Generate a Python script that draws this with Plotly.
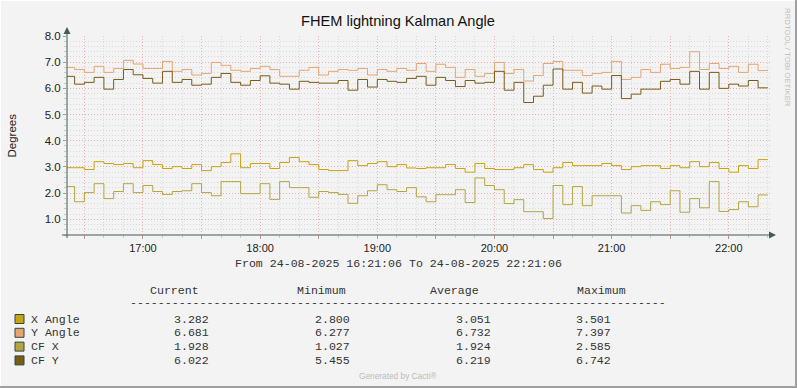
import pandas as pd
import plotly.graph_objects as go

# ---------------- data (5-minute RRD steps) ----------------
x_angle = [2.97, 2.97, 2.90, 3.20, 3.13, 3.09, 3.13, 2.97, 3.24, 3.09,
           2.94, 3.01, 2.94, 3.09, 2.86, 3.01, 3.17, 3.50, 2.97, 3.13,
           3.13, 2.94, 3.17, 3.36, 3.20, 3.09, 2.90, 2.86, 2.86, 3.24,
           3.05, 3.13, 3.20, 3.01, 3.09, 2.96, 2.94, 2.97, 2.97, 3.09,
           2.94, 2.80, 3.13, 2.94, 2.90, 2.90, 2.97, 3.09, 2.90, 2.80,
           2.97, 3.17, 3.05, 3.05, 3.05, 3.13, 3.05, 2.90, 3.01, 3.05,
           3.05, 2.94, 3.05, 2.97, 3.20, 3.01, 3.17, 2.94, 2.80, 3.05,
           2.94, 3.28]
y_angle = [6.80, 6.72, 6.61, 6.84, 6.61, 6.76, 7.07, 6.93, 6.76, 6.76,
           7.03, 6.65, 6.72, 6.51, 6.57, 6.99, 6.88, 6.69, 6.65, 6.76,
           6.84, 6.72, 6.46, 6.46, 6.69, 6.80, 6.51, 6.65, 6.72, 6.69,
           6.76, 6.51, 6.72, 6.65, 6.76, 6.69, 6.95, 6.65, 6.92, 6.80,
           6.42, 6.72, 6.46, 6.57, 6.99, 6.57, 6.72, 6.28, 6.49, 6.95,
           7.03, 6.69, 6.69, 6.49, 6.57, 6.61, 7.03, 6.34, 6.42, 6.72,
           6.61, 6.92, 6.76, 6.80, 7.40, 6.72, 6.95, 6.76, 6.84, 6.61,
           6.92, 6.68]
cf_x = [2.25, 1.67, 2.02, 2.36, 1.79, 2.06, 2.36, 2.02, 2.29, 2.06,
        1.95, 2.06, 2.09, 2.36, 2.02, 1.90, 2.44, 2.44, 1.98, 1.98,
        2.36, 1.76, 2.44, 2.21, 2.21, 1.84, 2.06, 2.02, 1.95, 1.61,
        1.90, 2.09, 2.32, 2.13, 2.06, 2.21, 1.86, 1.67, 1.94, 1.94,
        2.13, 1.64, 2.58, 2.29, 2.13, 1.60, 1.75, 1.29, 1.29, 1.03,
        2.29, 1.56, 2.25, 1.52, 1.90, 1.90, 1.90, 1.24, 1.52, 1.34,
        1.67, 1.56, 2.09, 1.27, 1.79, 1.44, 2.44, 1.30, 1.37, 1.67,
        1.48, 1.93]
cf_y = [6.46, 6.16, 6.23, 6.42, 5.97, 6.34, 6.72, 6.52, 6.38, 6.20,
        6.65, 6.23, 6.34, 6.12, 6.16, 6.42, 6.57, 6.23, 6.12, 6.30,
        6.48, 6.20, 6.16, 5.97, 6.27, 6.23, 6.20, 6.20, 6.30, 5.93,
        6.34, 6.05, 6.34, 6.27, 6.23, 6.38, 6.46, 6.12, 6.42, 6.30,
        6.07, 6.30, 6.20, 6.23, 6.65, 5.93, 6.23, 5.46, 5.70, 6.12,
        6.74, 5.97, 6.23, 5.82, 6.09, 5.97, 6.49, 5.61, 5.78, 5.97,
        5.97, 6.27, 6.34, 6.16, 6.65, 5.97, 6.61, 6.00, 6.16, 6.09,
        6.30, 6.02]

series_names = ["X Angle", "Y Angle", "CF X", "CF Y"]
series_colors = ["#C9A310", "#E6A472", "#B3A640", "#7A5B17"]
stat_current = ["3.282", "6.681", "1.928", "6.022"]
stat_minimum = ["2.800", "6.277", "1.027", "5.455"]
stat_average = ["3.051", "6.732", "1.924", "6.219"]
stat_maximum = ["3.501", "7.397", "2.585", "6.742"]

t_start = "2025-08-24 16:21:06"
t_end = "2025-08-24 22:21:06"
first_step = "2025-08-24 16:25"
last_step_end = "2025-08-24 22:20"
hour_ticks = ["17:00", "18:00", "19:00", "20:00", "21:00", "22:00"]
y_ticks = [1, 2, 3, 4, 5, 6, 7, 8]

# ---------------- geometry ----------------
W, H = 797, 388
L, R, T, B = 67, 770, 36, 235


def px(x):
    return (x - L) / (R - L)


def py(y):
    return (B - y) / (B - T)


steps = [pd.Timestamp(t_start)] + list(pd.date_range(first_step, periods=len(x_angle) - 1, freq="5min"))
xs = steps + [pd.Timestamp(last_step_end)]

fig = go.Figure()
for name, vals, col in zip(series_names, [x_angle, y_angle, cf_x, cf_y], series_colors):
    fig.add_trace(go.Scatter(x=xs, y=vals + [vals[-1]], mode="lines", name=name,
                             line=dict(color=col, width=1, shape="hv"),
                             showlegend=False, hoverinfo="skip"))

half_hours = pd.date_range("2025-08-24 16:30", "2025-08-24 22:00", freq="30min")
tickvals = list(half_hours)
ticktext = [t.strftime("%H:%M") if t.strftime("%H:%M") in hour_ticks else "" for t in half_hours]

MAJ = "rgba(232,160,160,0.7)"
MIN = "rgba(205,205,205,0.7)"
DASH = "1px,2px"
AX = "#3E5E50"

fig.update_xaxes(type="date", range=[t_start, t_end], tickmode="array",
                 tickvals=tickvals, ticktext=ticktext,
                 showgrid=True, gridcolor=MAJ, griddash=DASH, gridwidth=1,
                 ticks="outside", ticklen=3, tickcolor="#C09090",
                 tickfont=dict(family="Liberation Sans", size=11, color="#222"),
                 showline=False, zeroline=False,
                 minor=dict(tickmode="linear", tick0="2025-08-24 16:00", dtick=600000,
                            showgrid=True, gridcolor=MIN, griddash=DASH, gridwidth=1,
                            ticks="outside", ticklen=2, tickcolor="#C8C8C8"))
fig.update_yaxes(range=[0.4, 8.0], tickmode="array", tickvals=y_ticks,
                 ticktext=[f"{v:.1f}" for v in y_ticks],
                 showgrid=True, gridcolor=MAJ, griddash=DASH, gridwidth=1,
                 ticks="outside", ticklen=3, tickcolor="#C09090",
                 tickfont=dict(family="Liberation Sans", size=11.5, color="#222"),
                 showline=False, zeroline=False,
                 minor=dict(tickmode="linear", tick0=0, dtick=0.2,
                            showgrid=True, gridcolor=MIN, griddash=DASH, gridwidth=1,
                            ticks="outside", ticklen=2, tickcolor="#C8C8C8"))

shapes = []
# axes with arrows
shapes.append(dict(type="line", xref="paper", yref="paper", x0=px(67), x1=px(67), y0=py(238), y1=py(31),
                   line=dict(color=AX, width=1)))
shapes.append(dict(type="path", xref="paper", yref="paper",
                   path=f"M {px(63.5)},{py(34)} L {px(70.5)},{py(34)} L {px(67)},{py(27)} Z",
                   fillcolor=AX, line=dict(color=AX, width=0)))
shapes.append(dict(type="line", xref="paper", yref="paper", x0=px(62), x1=px(770), y0=py(235), y1=py(235),
                   line=dict(color=AX, width=1)))
shapes.append(dict(type="path", xref="paper", yref="paper",
                   path=f"M {px(769)},{py(231.5)} L {px(769)},{py(238.5)} L {px(776)},{py(235)} Z",
                   fillcolor=AX, line=dict(color=AX, width=0)))
# frame
shapes.append(dict(type="rect", xref="paper", yref="paper", x0=px(795), x1=px(797), y0=py(0), y1=py(388),
                   fillcolor="#A0A0A0", line=dict(width=0), layer="above"))
shapes.append(dict(type="rect", xref="paper", yref="paper", x0=px(0), x1=px(797), y0=py(386), y1=py(388),
                   fillcolor="#A0A0A0", line=dict(width=0), layer="above"))
shapes.append(dict(type="rect", xref="paper", yref="paper", x0=px(0), x1=px(1), y0=py(0), y1=py(386),
                   fillcolor="#FFFFFF", line=dict(width=0), layer="above"))
shapes.append(dict(type="rect", xref="paper", yref="paper", x0=px(0), x1=px(795), y0=py(0), y1=py(1),
                   fillcolor="#FFFFFF", line=dict(width=0), layer="above"))

MONO = "Liberation Mono"
FS = 11.6
TXT = "#333333"
ann = []


def text(x, y, s, anchor="left", size=FS, family=MONO, color=TXT, angle=0):
    ann.append(dict(x=px(x), y=py(y), xref="paper", yref="paper", text=s, showarrow=False,
                    xanchor=anchor, yanchor="middle", borderpad=0, textangle=angle,
                    font=dict(family=family, size=size, color=color)))


text(398, 21, "FHEM lightning Kalman Angle", anchor="center", size=14.6, family="Liberation Sans", color="#111")
text(11, 135.5, "Degrees", anchor="center", size=11.5, family="Liberation Sans", color="#222", angle=-90)
text(788, 57, "RRDTOOL / TOBI OETIKER", anchor="center", size=7.8, family="Liberation Sans", color="#BBBBBB", angle=90)
text(398, 376, "Generated by Cacti®", anchor="center", size=8.3, family="Liberation Sans", color="#BBBBBB")

text(398, 263, f"From 24-08-2025 16:21:06 To 24-08-2025 22:21:06", anchor="center")
for lab, x0 in zip(["Current", "Minimum", "Average", "Maximum"], [149, 296, 429, 576]):
    text(x0, 290.5, lab)
text(128.7, 302.5, "-" * 77)

row_y = [319, 332.8, 346.6, 360.4]
col_x = [172.7, 314.3, 455.3, 575.3]
for i, name in enumerate(series_names):
    yy = row_y[i]
    shapes.append(dict(type="rect", xref="paper", yref="paper", x0=px(15), x1=px(24), y0=py(yy + 4.5), y1=py(yy - 4.5),
                       fillcolor=series_colors[i], line=dict(color="#2E4A40", width=1)))
    text(30, yy, name)
    for cx, vals in zip(col_x, [stat_current, stat_minimum, stat_average, stat_maximum]):
        text(cx, yy, vals[i])

fig.update_layout(width=W, height=H, margin=dict(l=L, r=W - R, t=T, b=H - B),
                  paper_bgcolor="#F3F3F3", plot_bgcolor="#F3F3F3",
                  shapes=shapes, annotations=ann, showlegend=False)

fig.write_html("out.html", config={"displayModeBar": False, "staticPlot": True},
               post_script="document.body.style.margin='0';document.body.style.overflow='hidden';")
